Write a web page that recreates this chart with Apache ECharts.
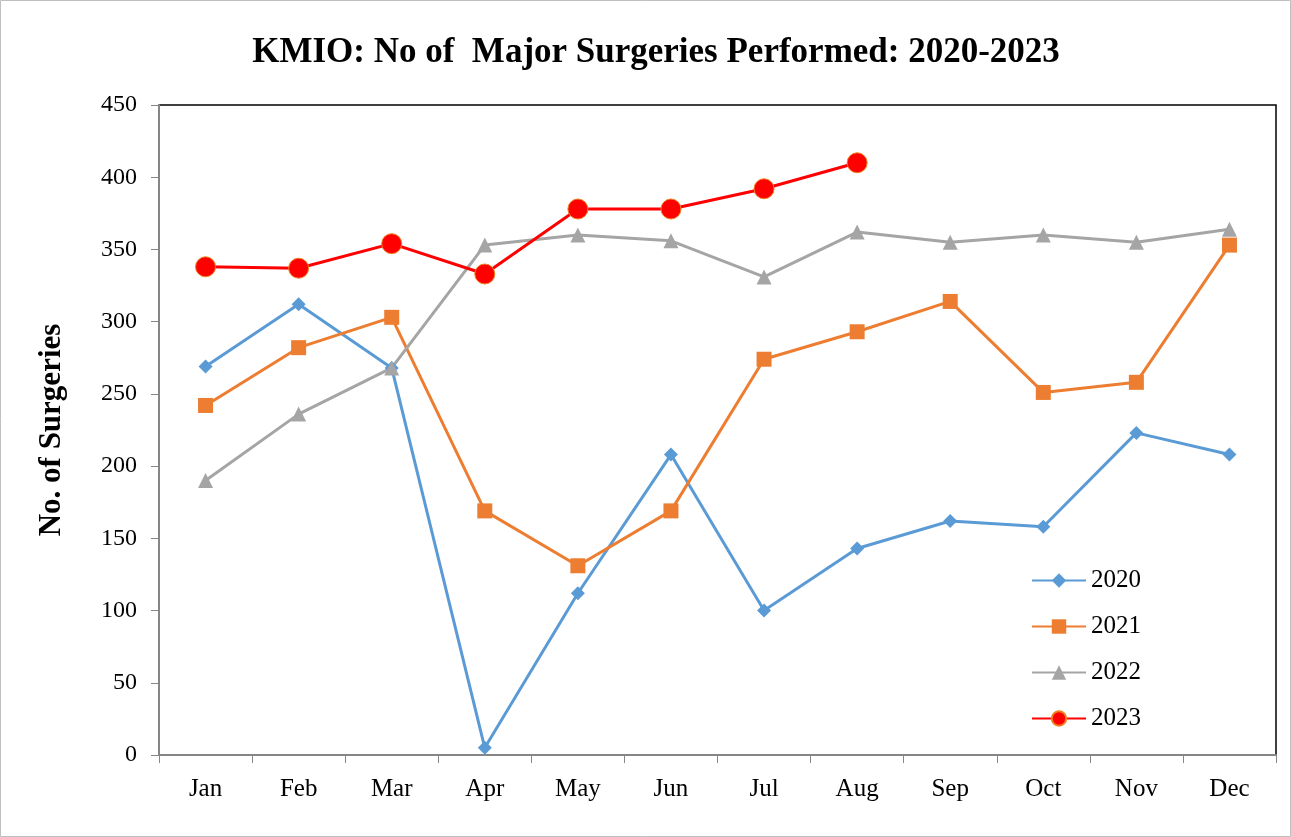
<!DOCTYPE html>
<html>
<head>
<meta charset="utf-8">
<script src="https://cdn.jsdelivr.net/npm/echarts@6/dist/echarts.min.js"></script>
<style>
html, body { margin: 0; padding: 0; background: #fff; }
#main { width: 1291px; height: 837px; }
</style>
</head>
<body>
<div id="main"></div>
<script>
var months = ['Jan', 'Feb', 'Mar', 'Apr', 'May', 'Jun', 'Jul', 'Aug', 'Sep', 'Oct', 'Nov', 'Dec'];
var y2020 = [269, 312, 268, 5, 112, 208, 100, 143, 162, 158, 223, 208];
var y2021 = [242, 282, 303, 169, 131, 169, 274, 293, 314, 251, 258, 353];
var y2022 = [190, 236, 268, 353, 360, 356, 331, 362, 355, 360, 355, 364];
var y2023 = [338, 337, 354, 333, 378, 378, 392, 410];

var font = 'Liberation Serif';
var myChart = echarts.init(document.getElementById('main'));

var option = {
    backgroundColor: '#fff',
    animation: false,
    title: {
        text: 'KMIO: No of  Major Surgeries Performed: 2020-2023',
        left: 651,
        textAlign: 'center',
        top: 30,
        textStyle: { fontFamily: font, fontSize: 35, fontWeight: 'bold', color: '#000' }
    },
    graphic: [{
        type: 'rect',
        shape: { x: 0.5, y: 0.5, width: 1290, height: 836 },
        style: { fill: 'none', stroke: '#bfbfbf', lineWidth: 1 }
    }],
    legend: {
        orient: 'vertical',
        left: 1026,
        top: 563,
        itemGap: 21,
        itemWidth: 54,
        itemHeight: 18,
        textStyle: { fontFamily: font, fontSize: 25, color: '#000' },
        data: ['2020', '2021', '2022', '2023']
    },
    grid: {
        left: 159, right: 15, top: 105, bottom: 82,
        show: true, borderColor: '#000', borderWidth: 1.5
    },
    xAxis: {
        type: 'category',
        data: months,
        boundaryGap: true,
        axisLine: { lineStyle: { color: '#868686', width: 2 } },
        axisTick: { show: true, length: 8, lineStyle: { color: '#868686' } },
        axisLabel: { fontFamily: font, fontSize: 25, color: '#000', margin: 22 }
    },
    yAxis: {
        type: 'value',
        min: 0, max: 450, interval: 50,
        name: 'No. of Surgeries',
        nameLocation: 'middle',
        nameGap: 92,
        nameTextStyle: { fontFamily: font, fontSize: 31, fontWeight: 'bold', color: '#000' },
        axisLine: { show: true, lineStyle: { color: '#868686', width: 2 } },
        axisTick: { show: true, length: 8, lineStyle: { color: '#868686' } },
        splitLine: { show: false },
        axisLabel: { fontFamily: font, fontSize: 24, color: '#000', margin: 22 }
    },
    series: [{
        name: '2020', type: 'line', data: y2020,
        symbol: 'diamond', symbolSize: 14,
        lineStyle: { color: '#5b9bd5', width: 3 },
        itemStyle: { color: '#5b9bd5' }
    }, {
        name: '2021', type: 'line', data: y2021,
        symbol: 'rect', symbolSize: 15,
        lineStyle: { color: '#ed7d31', width: 3 },
        itemStyle: { color: '#ed7d31' }
    }, {
        name: '2022', type: 'line', data: y2022,
        symbol: 'triangle', symbolSize: 15,
        lineStyle: { color: '#a5a5a5', width: 3 },
        itemStyle: { color: '#a5a5a5' }
    }, {
        name: '2023', type: 'line', data: y2023,
        symbol: 'circle', symbolSize: 20,
        lineStyle: { color: '#ff0000', width: 3 },
        itemStyle: { color: '#ff0000', borderColor: '#f08020', borderWidth: 1 }
    }]
};

myChart.setOption(option);
</script>
</body>
</html>
